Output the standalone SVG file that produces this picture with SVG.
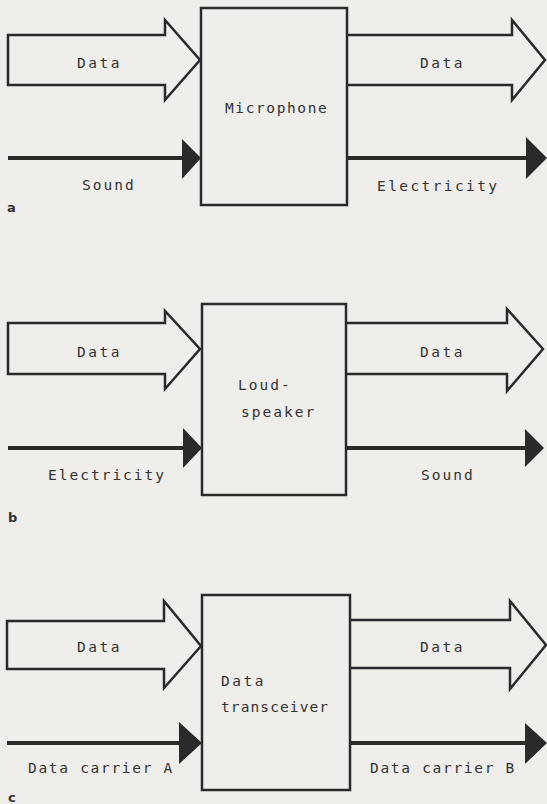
<svg xmlns="http://www.w3.org/2000/svg" width="547" height="804" viewBox="0 0 547 804">
<style>
.bg{fill:#f0eeeb}
.box{fill:none;stroke:#2a2a2a;stroke-width:2.5}
.hollow{fill:none;stroke:#2a2a2a;stroke-width:2.5;stroke-linejoin:miter}
.line{stroke:#2a2a2a;stroke-width:4;fill:none}
.head{fill:#2a2a2a;stroke:none}
.t{font-family:"DejaVu Sans Mono","Liberation Mono",monospace;font-size:14.5px;letter-spacing:2px;fill:#333}
.narrow{letter-spacing:1.3px}
.lab{font-family:"DejaVu Sans","Liberation Sans",sans-serif;font-size:13px;font-weight:bold;fill:#333}
</style>
<rect class="bg" x="0" y="0" width="547" height="804"/>

<!-- Panel a -->
<g id="microphone">
<rect class="box" x="201" y="8" width="146" height="197"/>
<text class="t narrow" x="225" y="113" style="letter-spacing:1.6px">Microphone</text>
</g>
<g id="connectors-a">
<polygon class="hollow" points="8,35 165,35 165,20 200,60 165,100 165,85 8,85"/>
<polyline class="hollow" points="347,35 512,35 512,20 545,60 512,100 512,85 347,85"/>
<line class="line" x1="8" y1="158" x2="184" y2="158"/>
<polygon class="head" points="182,139 201,158 182,179"/>
<line class="line" x1="347" y1="158" x2="528" y2="158"/>
<polygon class="head" points="526,137 547,158 526,179"/>
<text class="t" x="77" y="68" style="letter-spacing:2.5px">Data</text>
<text class="t" x="420" y="68" style="letter-spacing:2.5px">Data</text>
<text class="t" x="82" y="190">Sound</text>
<text class="t" x="377" y="191" style="letter-spacing:2.4px">Electricity</text>
</g>
<text class="lab" x="7" y="212">a</text>

<!-- Panel b -->
<g id="loudspeaker">
<rect class="box" x="202" y="304" width="144" height="191"/>
<text class="t" x="238" y="390">Loud-</text>
<text class="t" x="241" y="417">speaker</text>
</g>
<g id="connectors-b">
<polygon class="hollow" points="8,323 165,323 165,311 200,349 165,389 165,374 8,374"/>
<polyline class="hollow" points="346,323 507,323 507,309 543,349 507,391 507,374 346,374"/>
<line class="line" x1="8" y1="448" x2="185" y2="448"/>
<polygon class="head" points="183,428 202,448 183,468"/>
<line class="line" x1="346" y1="448" x2="527" y2="448"/>
<polygon class="head" points="525,429 544,448 525,467"/>
<text class="t" x="77" y="357" style="letter-spacing:2.5px">Data</text>
<text class="t" x="420" y="357" style="letter-spacing:2.5px">Data</text>
<text class="t" x="48" y="480">Electricity</text>
<text class="t" x="421" y="480">Sound</text>
</g>
<text class="lab" x="8" y="522">b</text>

<!-- Panel c -->
<g id="transceiver">
<rect class="box" x="202" y="595" width="148" height="195"/>
<text class="t" x="221" y="686" style="letter-spacing:2.5px">Data</text>
<text class="t narrow" x="221" y="712" style="letter-spacing:1.1px">transceiver</text>
</g>
<g id="connectors-c">
<polygon class="hollow" points="7,621 164,621 164,601 201,646 164,688 164,669 7,669"/>
<polyline class="hollow" points="350,620 510,620 510,601 546,645 510,689 510,668 350,668"/>
<line class="line" x1="7" y1="743" x2="181" y2="743"/>
<polygon class="head" points="179,722 202,743 179,764"/>
<line class="line" x1="350" y1="743" x2="527" y2="743"/>
<polygon class="head" points="525,723 547,743 525,764"/>
<text class="t" x="77" y="652" style="letter-spacing:2.5px">Data</text>
<text class="t" x="420" y="652" style="letter-spacing:2.5px">Data</text>
<text class="t" x="28" y="773" style="letter-spacing:1.7px">Data carrier A</text>
<text class="t" x="370" y="773" style="letter-spacing:1.7px">Data carrier B</text>
</g>
<text class="lab" x="8" y="802">c</text>
</svg>
